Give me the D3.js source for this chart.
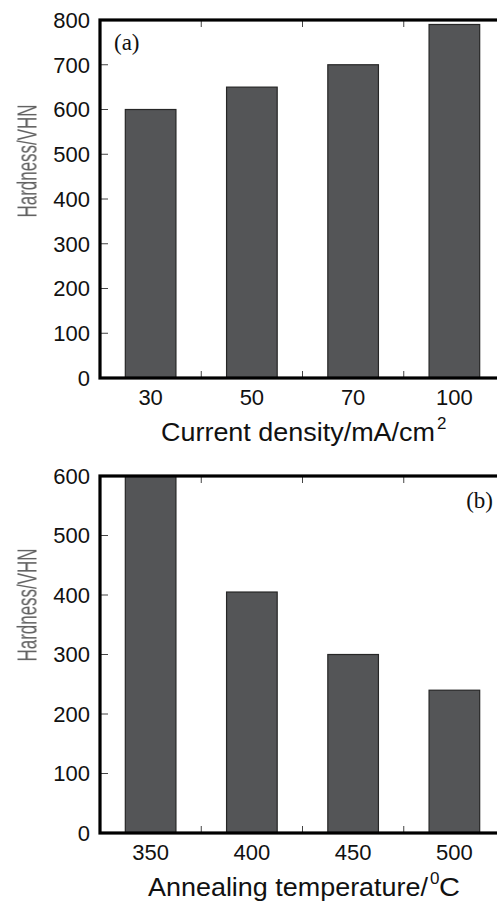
<html lang="en">
<head>
  <meta charset="UTF-8">
  <title>hardness</title>
  <style>
    body { margin: 0; background: #fff; }
    svg { display: block; }
    .tick-label { font-family: "Liberation Sans", Arial, sans-serif; font-size: 22px; fill: #111; }
    .axis-title { font-family: "Liberation Sans", Arial, sans-serif; font-size: 25.5px; fill: #111; }
    .y-title { font-family: "Liberation Sans", Arial, sans-serif; font-size: 28px; fill: #626262; }
    .panel-tag { font-family: "Liberation Serif", "Times New Roman", serif; font-size: 23px; fill: #111; }
    .bar { fill: #545557; stroke: #262626; stroke-width: 1.2; }
    .frame { fill: none; stroke: #000; stroke-width: 3.2; }
    .tick { stroke: #444; stroke-width: 1; }
  </style>
</head>
<body>
  <script src="https://d3js.org/d3.v7.min.js"></script>
  <script>
    // panel (a)
    var currentDensity = ['30', '50', '70', '100'];
    var hardnessA = [600, 650, 700, 790];
    var ticksA = [0, 100, 200, 300, 400, 500, 600, 700, 800];

    // panel (b)
    var annealTemp = ['350', '400', '450', '500'];
    var hardnessB = [600, 405, 300, 240];
    var ticksB = [0, 100, 200, 300, 400, 500, 600];

    var width = 497, height = 904;
    var svg = d3.select('body').append('svg')
      .attr('width', width)
      .attr('height', height);

    function drawPanel(opt) {
      var g = svg.append('g');
      var left = 100, right = 505;

      var x = d3.scaleBand()
        .domain(opt.cats)
        .range([left, right])
        .paddingInner(0.5)
        .paddingOuter(0.25);

      var y = d3.scaleLinear()
        .domain([0, opt.ymax])
        .range([opt.bottom, opt.top]);

      // bars
      g.selectAll('.bar')
        .data(opt.values)
        .enter().append('rect')
        .attr('class', 'bar')
        .attr('x', function(d, i) { return x(opt.cats[i]); })
        .attr('y', function(d) { return y(d); })
        .attr('width', x.bandwidth())
        .attr('height', function(d) { return y(0) - y(d); });

      // y ticks, left and right, pointing in
      opt.yticks.forEach(function(t) {
        g.append('line').attr('class', 'tick')
          .attr('x1', left).attr('x2', left + 8)
          .attr('y1', y(t)).attr('y2', y(t));
        g.append('line').attr('class', 'tick')
          .attr('x1', right - 8).attr('x2', right)
          .attr('y1', y(t)).attr('y2', y(t));
        g.append('text').attr('class', 'tick-label')
          .attr('x', left - 10)
          .attr('y', y(t) + 7.8)
          .attr('text-anchor', 'end')
          .text(t);
      });

      // x ticks between categories, bottom and top
      var step = x.step();
      opt.cats.slice(0, -1).forEach(function(c) {
        var xp = x(c) + x.bandwidth() / 2 + step / 2;
        g.append('line').attr('class', 'tick')
          .attr('x1', xp).attr('x2', xp)
          .attr('y1', opt.bottom).attr('y2', opt.bottom - 7);
        g.append('line').attr('class', 'tick')
          .attr('x1', xp).attr('x2', xp)
          .attr('y1', opt.top).attr('y2', opt.top + 7);
      });

      g.selectAll('.xlab')
        .data(opt.cats)
        .enter().append('text')
        .attr('class', 'tick-label')
        .attr('x', function(d) { return x(d) + x.bandwidth() / 2; })
        .attr('y', opt.bottom + 27)
        .attr('text-anchor', 'middle')
        .text(function(d) { return d; });

      // frame
      g.append('rect').attr('class', 'frame')
        .attr('x', left).attr('y', opt.top)
        .attr('width', right - left).attr('height', opt.bottom - opt.top);

      // x title with superscript
      g.append('text').attr('class', 'axis-title')
        .attr('x', opt.xt.x).attr('y', opt.bottom + 63)
        .attr('textLength', opt.xt.len)
        .attr('lengthAdjust', 'spacingAndGlyphs')
        .text(opt.xt.main);
      g.append('text').attr('class', 'axis-title')
        .attr('x', opt.xt.x + opt.xt.len + 2).attr('y', opt.bottom + 51)
        .style('font-size', '17px')
        .text(opt.xt.sup);
      if (opt.xt.tail) {
        g.append('text').attr('class', 'axis-title')
          .attr('x', opt.xt.x + opt.xt.len + 11).attr('y', opt.bottom + 63)
          .attr('textLength', 21)
          .attr('lengthAdjust', 'spacingAndGlyphs')
          .text(opt.xt.tail);
      }

      // y title
      g.append('text').attr('class', 'y-title')
        .attr('transform', 'translate(36.5,' + opt.ytc + ') rotate(-90)')
        .attr('text-anchor', 'middle')
        .attr('textLength', 113)
        .attr('lengthAdjust', 'spacingAndGlyphs')
        .style('filter', 'blur(0.6px)')
        .text('Hardness/VHN');

      // panel tag
      g.append('text').attr('class', 'panel-tag')
        .attr('x', opt.tag.x).attr('y', opt.tag.y)
        .attr('text-anchor', opt.tag.anchor)
        .text(opt.tag.text);
    }

    drawPanel({
      cats: currentDensity, values: hardnessA, yticks: ticksA, ymax: 800,
      top: 20, bottom: 378,
      xt: { main: 'Current density/mA/cm', sup: '2', x: 161, len: 274 },
      ytc: 161,
      tag: { text: '(a)', x: 114, y: 50, anchor: 'start' }
    });

    drawPanel({
      cats: annealTemp, values: hardnessB, yticks: ticksB, ymax: 600,
      top: 476, bottom: 833,
      xt: { main: 'Annealing temperature/', sup: '0', x: 148, len: 280, tail: 'C' },
      ytc: 605,
      tag: { text: '(b)', x: 493, y: 508, anchor: 'end' }
    });
  </script>
</body>
</html>
